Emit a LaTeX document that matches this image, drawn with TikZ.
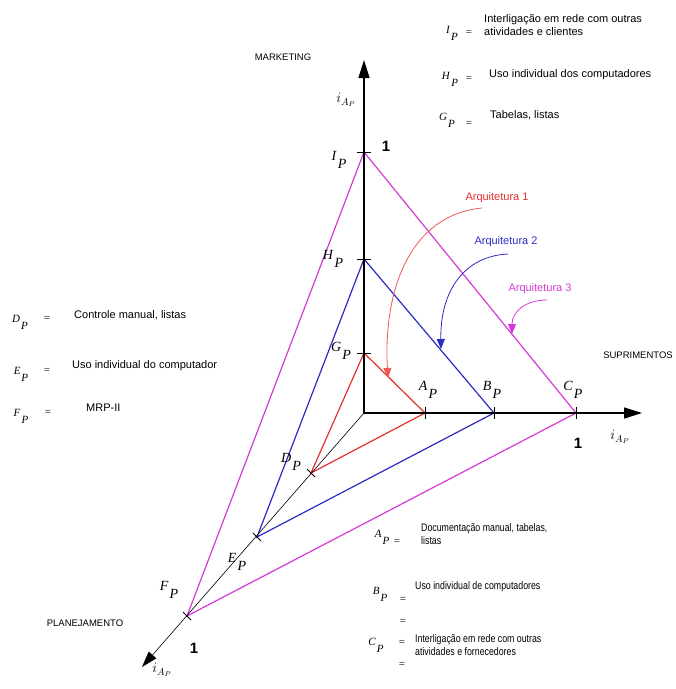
\documentclass[tikz,border=0pt]{standalone}
\usepackage{fontspec}
\setmainfont{Liberation Serif}
\setsansfont{Liberation Sans}
\newfontfamily\narrowsf[FakeStretch=0.8]{Liberation Sans}
\usepackage{xcolor}
\definecolor{arqred}{HTML}{E4302C}
\definecolor{arqblue}{HTML}{2B2BC4}
\definecolor{arqmag}{HTML}{D63AD6}
\usetikzlibrary{arrows.meta}
\newcommand{\ptlab}[2]{\textit{#1}\raisebox{-1.35ex}{\kern1pt\textit{#2}}}

\begin{document}
\begin{tikzpicture}[x=1pt,y=-1pt,>=Stealth,every node/.style={inner sep=0pt},
  axis/.style={line width=1.5pt,-{Triangle[length=18pt,width=11pt]}},
  diag/.style={line width=0.6pt,-{Triangle[length=16pt,width=10pt]}},
  tick/.style={line width=0.9pt},
  tri/.style={line width=1.2pt},
  curv/.style={line width=0.8pt,-{Triangle[length=10pt,width=8pt]}},
  ptl/.style={font=\fontsize{14}{14}\selectfont},
  axl/.style={font=\fontsize{9.5}{9.5}\sffamily},
  arq/.style={font=\fontsize{11}{11}\sffamily},
  leg/.style={font=\fontsize{11}{13.5}\sffamily,align=left,anchor=north west},
  legn/.style={font=\fontsize{11}{13}\narrowsf,align=left,anchor=north west},
  legsym/.style={font=\fontsize{11}{11}\selectfont},
  one/.style={font=\fontsize{15}{15}\sffamily\bfseries}]
\useasboundingbox (0,0) rectangle (676,689);

% points on the axes
\coordinate (O) at (364,413);
\coordinate (Gp) at (364,353);
\coordinate (Hp) at (364,259);
\coordinate (Ip) at (364,152);
\coordinate (Ap) at (425,413);
\coordinate (Bp) at (494,413);
\coordinate (Cp) at (576,413);
\coordinate (Dp) at (311,473);
\coordinate (Ep) at (257,537);
\coordinate (Fp) at (187,616);
\coordinate (tM) at (364,60);
\coordinate (tS) at (642,413);
\coordinate (tP) at (142,667);

% architectures
\draw[tri,arqred] (Gp) -- (Ap) -- (Dp) -- cycle;
\draw[tri,arqblue] (Hp) -- (Bp) -- (Ep) -- cycle;
\draw[tri,arqmag] (Ip) -- (Cp) -- (Fp) -- cycle;

% axes
\draw[axis] (O) -- (tM);
\draw[axis] (O) -- (tS);
\draw[diag] (O) -- (tP);
\foreach \p in {Gp,Hp,Ip}
  \draw[tick] ([xshift=-7pt]\p) -- ([xshift=7pt]\p);
\foreach \p in {Ap,Bp,Cp}
  \draw[tick] ([yshift=-6pt]\p) -- ([yshift=6pt]\p);
\foreach \p in {Dp,Ep,Fp}
  \draw[tick] ([shift={(-4,-4)}]\p) -- ([shift={(4,4)}]\p);

% axis labels
\node[axl] (mkt) at (283,57) {MARKETING};
\node[axl] (sup) at (638,355) {SUPRIMENTOS};
\node[axl] (pla) at (85,623) {PLANEJAMENTO};
\node[ptl] (iM) at (346,100) {$i_{A_P}$};
\node[ptl] (iS) at (620,437) {$i_{A_P}$};
\node[ptl] (iP) at (162,670) {$i_{A_P}$};
\node[one] (oneM) at (386,146) {1};
\node[one] (oneS) at (578,443) {1};
\node[one] (oneP) at (194,648) {1};

% point labels
\node[ptl] (lIp) at (339,160) {\ptlab{I}{P}};
\node[ptl] (lHp) at (333,259) {\ptlab{H}{P}};
\node[ptl] (lGp) at (341,351) {\ptlab{G}{P}};
\node[ptl] (lAp) at (428,390) {\ptlab{A}{P}};
\node[ptl] (lBp) at (492,390) {\ptlab{B}{P}};
\node[ptl] (lCp) at (573,390) {\ptlab{C}{P}};
\node[ptl] (lDp) at (291,462) {\ptlab{D}{P}};
\node[ptl] (lEp) at (237,562) {\ptlab{E}{P}};
\node[ptl] (lFp) at (169,590) {\ptlab{F}{P}};

% architecture pointers
\node[arq,text=arqred] (arq1) at (497,198) {Arquitetura 1};
\node[arq,text=arqblue] (arq2) at (506,242) {Arquitetura 2};
\node[arq,text=arqmag] (arq3) at (540,289) {Arquitetura 3};
\coordinate (e1) at (388,378);
\coordinate (e2) at (441,349);
\coordinate (e3) at (512,334);
\draw[curv,arqred!80] (482,208) .. controls (410,215) and (383,290) .. (e1);
\draw[curv,arqblue] (508,254) .. controls (465,256) and (440,290) .. (e2);
\draw[curv,arqmag] (547,300) .. controls (525,300) and (512,312) .. (e3);

% legend, top right
\node[legsym] (sI) at (452,33) {\ptlab{I}{P}};
\node[legsym] (eI) at (469,33) {=};
\node[leg] (tI) at (484,14) {Interligação em rede com outras\\atividades e clientes};
\node[legsym] (sH) at (450,79) {\ptlab{H}{P}};
\node[legsym] (eH) at (469,79) {=};
\node[leg] (tH) at (489,69) {Uso individual dos computadores};
\node[legsym] (sG) at (447,120) {\ptlab{G}{P}};
\node[legsym] (eG) at (469,124) {=};
\node[leg] (tG) at (490,110) {Tabelas, listas};

% legend, left
\node[legsym] (sD) at (20,322) {\ptlab{D}{P}};
\node[legsym] (eD) at (47,319) {=};
\node[leg] (tD) at (74,310) {Controle manual, listas};
\node[legsym] (sE) at (21,374) {\ptlab{E}{P}};
\node[legsym] (eE) at (47,371) {=};
\node[leg] (tE) at (72,360) {Uso individual do computador};
\node[legsym] (sF) at (21,416) {\ptlab{F}{P}};
\node[legsym] (eF) at (48,413) {=};
\node[leg] (tF) at (86,404) {MRP-II};

% legend, bottom
\node[legsym] (sA) at (382,537) {\ptlab{A}{P}};
\node[legsym] (eA) at (397,542) {=};
\node[legn] (tA) at (421,523) {Documentação manual, tabelas,\\listas};
\node[legsym] (sB) at (380,594) {\ptlab{B}{P}};
\node[legsym] (eB) at (403,600) {=};
\node[legsym] (eB2) at (403,622) {=};
\node[legn] (tB) at (415,581) {Uso individual de computadores};
\node[legsym] (sC) at (376,645) {\ptlab{C}{P}};
\node[legsym] (eC) at (402,643) {=};
\node[legsym] (eC2) at (402,665) {=};
\node[legn] (tC) at (415,634) {Interligação em rede com outras\\atividades e fornecedores};
\end{tikzpicture}
\end{document}
